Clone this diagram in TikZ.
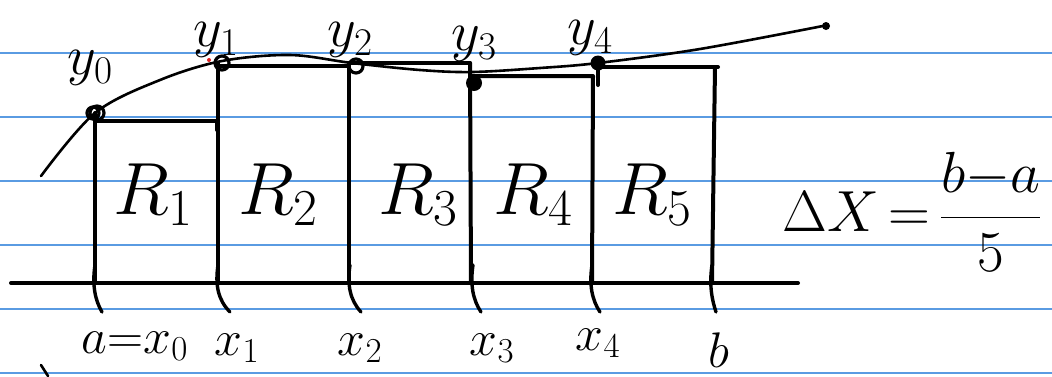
\RequirePackage{fix-cm}
\documentclass[tikz,border=0pt]{standalone}
\usepackage{amsmath}
\usetikzlibrary{calc}
\definecolor{ruleblue}{HTML}{5A9BE2}
\definecolor{inkred}{HTML}{E02020}

\begin{document}
\begin{tikzpicture}[x=1pt,y=-1pt,line cap=round,line join=round]
    \useasboundingbox (0,0) rectangle (1052,376);
    \foreach \y in {53,117,181,245,309,373}{\draw[ruleblue,line width=1.6pt] (0,\y)--(1052,\y);}
    \draw[line width=4pt] (11,283)--(798,283);
    % rectangles
    \draw[line width=4pt] (95,283)--(95,113);
    \draw[line width=4pt] (95,121)--(217,121)--(217,130);
    \draw[line width=4pt] (218,283)--(218,63);
    \draw[line width=4pt] (218,66)--(349,66)--(349,283);
    \draw[line width=4pt] (349,63)--(470,63);
    \draw[line width=4pt] (470,63)--(471,283);
    \draw[line width=4pt] (471,76)--(593,76)--(592,283);
    \draw[line width=4pt] (598,63)--(598,85);
    \draw[line width=4pt] (598,67)--(718,67);
    \draw[line width=4pt] (715,67)--(712,283);
    % ticks below the axis
    \foreach \x/\d in {95/7,218/12,350/11,473/8,592/8,712/4}{
      \draw[line width=3.4pt] (\x,265) .. controls (\x-3,285) and (\x,300) .. (\x+\d,312);}
    % curve
    \draw[line width=2.6pt] plot[smooth,tension=0.55] coordinates {(41,176) (95,113) (160,80) (222,61) (290,55) (352,63) (420,70) (472,72) (540,68) (598,63) (700,49) (828,25)};
    \fill (826,26) circle (4pt);
    \fill[inkred] (209,60) circle (2pt);
    \draw[line width=3.2pt] (97,113) circle (7pt);
    \draw[line width=3.2pt] (93,113) circle (6pt);
    \draw[line width=3.2pt] (222,63) circle (7pt);
    \draw[line width=3.2pt] (356,66) circle (7pt);
    \fill (474,83) circle (8pt);
    \fill (598,63) circle (7.5pt);
    \draw[line width=2.6pt] (41,365)--(48,376);
    % labels
    \node (ly0) at (90,68) {\fontsize{56}{56}\selectfont$y_0$};
    \node (ly1) at (216,40) {\fontsize{56}{56}\selectfont$y_1$};
    \node (ly2) at (350,40) {\fontsize{56}{56}\selectfont$y_2$};
    \node (ly3) at (474,44) {\fontsize{56}{56}\selectfont$y_3$};
    \node (ly4) at (590,38) {\fontsize{56}{56}\selectfont$y_4$};
    \foreach \x/\i in {153/1,278/2,418/3,533/4,652/5}{
      \node (r\i) at (\x,195) {\fontsize{74}{74}\selectfont$R_{\i}$};}
    \node (la) at (135,346) {\fontsize{50}{50}\selectfont$a{=}x_0$};
    \node (lx1) at (237,348) {\fontsize{50}{50}\selectfont$x_1$};
    \node (lx2) at (360,348) {\fontsize{50}{50}\selectfont$x_2$};
    \node (lx3) at (492,348) {\fontsize{50}{50}\selectfont$x_3$};
    \node (lx4) at (598,343) {\fontsize{50}{50}\selectfont$x_4$};
    \node (lb) at (719,350) {\fontsize{50}{50}\selectfont$b$};
    \node (dx) at (912,212) {\fontsize{58}{58}\selectfont$\Delta X{\,=\,}\dfrac{b{-}a}{5}$};
  \end{tikzpicture}
\end{document}
